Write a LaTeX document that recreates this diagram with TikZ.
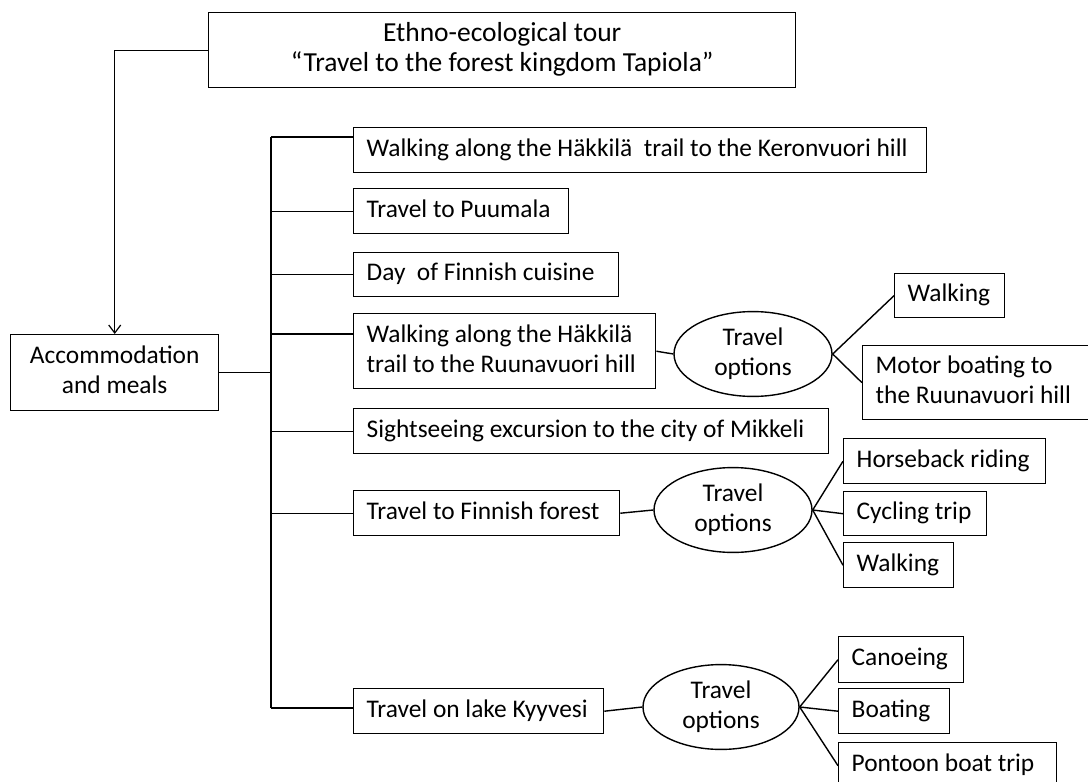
\documentclass[tikz,border=0pt]{standalone}
\usepackage{fontspec}
\setmainfont{Carlito}
\usetikzlibrary{shapes.geometric,arrows.meta}
% rectangular box from (x1,y1) to (x2,y2); #7 = l or c alignment
\newcommand\boxnode[7]{%
  \pgfmathsetmacro\bw{#4-#2-26}%
  \pgfmathsetmacro\bh{#5-#3}%
  \node[box, minimum height=\bh pt] (#1) at (#2,#3)
    {\makebox[\bw pt][#7]{\begin{tabular}{@{}#7@{}}#6\end{tabular}}};}
\begin{document}
\begin{tikzpicture}[x=1pt,y=-1pt,
  every node/.style={font=\fontsize{25.4}{30}\selectfont},
  box/.style={draw, line width=1.4pt, rectangle, inner xsep=13pt, inner ysep=0pt, anchor=north west},
  opt/.style={draw, ellipse, line width=1.4pt, inner sep=0pt},
  link/.style={line width=1.4pt}]
\useasboundingbox (0,0) rectangle (1088,782);

% main boxes
\boxnode{title}{208}{12}{795}{87}{\fontsize{27.5}{32}\selectfont Ethno-ecological tour\\\fontsize{27.5}{32}\selectfont“Travel to the forest kingdom Tapiola”}{c}
\boxnode{acc}{10}{334}{218}{410}{Accommodation\\and meals}{c}
\boxnode{b1}{353}{127}{926}{172}{Walking along the Häkkilä~ trail to the Keronvuori hill}{l}
\boxnode{b2}{353}{188}{568}{233}{Travel to Puumala}{l}
\boxnode{b3}{353}{252}{618}{296}{Day~ of Finnish cuisine}{l}
\boxnode{b4}{353}{313}{655}{388}{Walking along the Häkkilä\\trail to the Ruunavuori hill}{l}
\boxnode{b5}{353}{408}{828}{453}{Sightseeing excursion to the city of Mikkeli}{l}
\boxnode{b6}{353}{490}{619}{535}{Travel to Finnish forest}{l}
\boxnode{b7}{353}{688}{603}{733}{Travel on lake Kyyvesi}{l}

% travel option ellipses
\node[opt, minimum width=158pt, minimum height=82pt] (e1) at (753,354) {\begin{tabular}{@{}c@{}}Travel\\options\end{tabular}};
\node[opt, minimum width=158pt, minimum height=80pt] (e2) at (733,510) {\begin{tabular}{@{}c@{}}Travel\\options\end{tabular}};
\node[opt, minimum width=156pt, minimum height=81pt] (e3) at (721,707) {\begin{tabular}{@{}c@{}}Travel\\options\end{tabular}};

% option boxes
\boxnode{walkA}{894}{273}{1004}{317}{Walking}{l}
\boxnode{motor}{862}{345}{1095}{419}{Motor boating to\\the Ruunavuori hill}{l}
\boxnode{horse}{843}{438}{1045}{483}{Horseback riding}{l}
\boxnode{cycle}{843}{491}{986}{535}{Cycling trip}{l}
\boxnode{walkB}{843}{542}{953}{587}{Walking}{l}
\boxnode{canoe}{838}{636}{963}{682}{Canoeing}{l}
\boxnode{boat}{838}{688}{949}{733}{Boating}{l}
\boxnode{pontoon}{838}{742}{1056}{788}{Pontoon boat trip}{l}

% title to accommodation
\draw[link, -{Straight Barb[length=8pt,width=12pt,line width=1.2pt]}] (title.west) -| (acc.north);

% vertical bus
\coordinate (busTop) at (271,137);
\coordinate (busBot) at (271,708);
\draw[link] (busTop) -- (busBot);
\draw[link] (acc.east) -- (acc.east -| busTop);
\draw[link] (busTop) -- (busTop -| b1.west);
\draw[link] (b2.west -| busTop) -- (b2.west);
\draw[link] (b3.west -| busTop) -- (b3.west);
\coordinate (b4in) at ([yshift=-21pt]b4.north west);
\draw[link] (b4in -| busTop) -- (b4in);
\draw[link] (b5.west -| busTop) -- (b5.west);
\draw[link] (b6.west -| busTop) -- (b6.west);
\draw[link] (busBot) -- (busBot -| b7.west);

% boxes to ellipses
\draw[link] (b4.east) -- (e1.west);
\draw[link] (b6.east) -- (e2.west);
\draw[link] (b7.east) -- (e3.west);

% ellipses to options
\draw[link] (e1.east) -- (walkA.west);
\draw[link] (e1.east) -- (motor.west);
\draw[link] (e2.east) -- (horse.west);
\draw[link] (e2.east) -- (cycle.west);
\draw[link] (e2.east) -- (walkB.west);
\draw[link] (e3.east) -- (canoe.west);
\draw[link] (e3.east) -- (boat.west);
\draw[link] (e3.east) -- (pontoon.west);
\end{tikzpicture}
\end{document}
